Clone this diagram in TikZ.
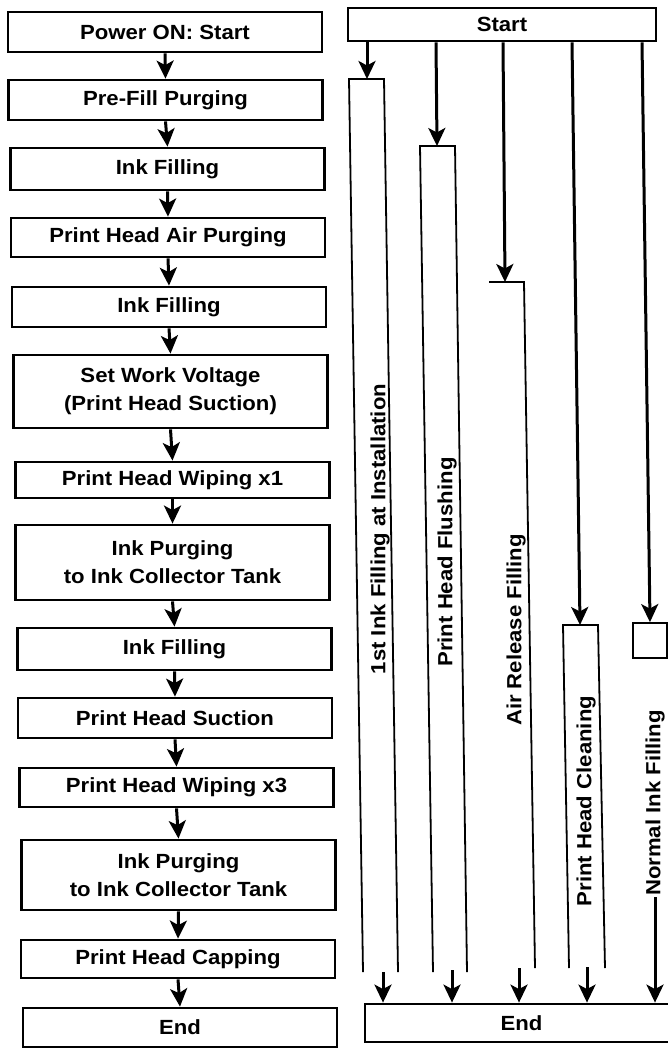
\documentclass[tikz,border=0pt]{standalone}
\usepackage{fontspec}
\setmainfont{Liberation Sans}[FakeStretch=1.08]
\usetikzlibrary{arrows.meta}
\newcommand\lblfont{\bfseries\fontsize{20.5bp}{28bp}\selectfont}
\begin{document}
\begin{tikzpicture}[x=1bp,y=-1bp,
  box/.style={draw, line width=2.8bp, minimum width=314bp, inner sep=0pt, align=center, font=\lblfont},
  arr/.style={line width=3bp, -{Stealth[length=18bp,width=17bp,inset=4.5bp]}},
  lane/.style={line width=1.8bp},
  vlab/.style={rotate=90, inner sep=1bp, font=\lblfont}]
\useasboundingbox (0,0) rectangle (668,1051);
\fill[white] (0,0) rectangle (668,1051);
% ---------- left column ----------
\node[box, minimum height=40bp] (p1) at (165,32) {Power ON: Start};
\node[box, minimum height=40bp] (p2) at (165.5,100) {Pre-Fill Purging};
\node[box, minimum height=42bp] (p3) at (167.5,169) {Ink Filling};
\node[box, minimum height=39bp] (p4) at (168,237.5) {Print Head Air Purging};
\node[box, minimum height=40bp] (p5) at (169,307) {Ink Filling};
\node[box, minimum height=73bp] (p6) at (170.5,391.5) {Set Work Voltage\\(Print Head Suction)};
\node[box, minimum height=36bp] (p7) at (172.5,480) {Print Head Wiping x1};
\node[box, minimum height=75bp] (p8) at (172.5,562.5) {Ink Purging\\to Ink Collector Tank};
\node[box, minimum height=42bp] (p9) at (174.5,649) {Ink Filling};
\node[box, minimum height=40bp] (p10) at (175,718) {Print Head Suction};
\node[box, minimum height=39bp] (p11) at (176.5,787.5) {Print Head Wiping x3};
\node[box, minimum height=70bp] (p12) at (178.5,875) {Ink Purging\\to Ink Collector Tank};
\node[box, minimum height=38bp] (p13) at (178,959) {Print Head Capping};
\node[box, minimum height=39bp] (p14) at (180,1027.5) {End};
\foreach \a/\b in {p1/p2,p2/p3,p3/p4,p4/p5,p5/p6,p6/p7,p7/p8,p8/p9,p9/p10,p10/p11,p11/p12,p12/p13,p13/p14}
  \draw[arr] (\a.south) -- (\b.north);
% ---------- right column ----------
\node[box, minimum width=308bp, minimum height=33bp] (start) at (502,24.5) {Start};
\node[box, minimum width=313bp, minimum height=38bp] (fin) at (521.5,1023) {End};
% lane shapes
\draw[lane] (363,972) -- (349,79) -- (384,79) -- (398,972);
\draw[lane] (433,972) -- (420,146) -- (455,146) -- (467,972);
\draw[lane] (489,282) -- (524,282) -- (535,968);
\draw[lane] (569,968) -- (563,625) -- (598,625) -- (605,968);
\node[draw, line width=1.8bp, minimum width=34bp, minimum height=35bp, inner sep=0pt] (n5) at (650,640.5) {};
% start-to-lane arrows
\coordinate (s1) at (367,41); \coordinate (a1) at (367,79);
\coordinate (s2) at (436,41); \coordinate (a2) at (437,146);
\coordinate (s3) at (503,41); \coordinate (a3) at (505,282);
\coordinate (s4) at (572,41); \coordinate (a4) at (580,625);
\coordinate (s5) at (642,41);
\draw[arr] (start.south -| s1) -- (a1);
\draw[arr] (start.south -| s2) -- (a2);
\draw[arr] (start.south -| s3) -- (a3);
\draw[arr] (start.south -| s4) -- (a4);
\draw[arr] (start.south -| s5) -- (n5.north);
% lane labels
\node[vlab] (l1) at (380,529) {1st Ink Filling at Installation};
\node[vlab] (l2) at (447,562) {Print Head Flushing};
\node[vlab] (l3) at (516,630) {Air Release Filling};
\node[vlab] (l4) at (586,801) {Print Head Cleaning};
\node[vlab] (l5) at (655,803) {Normal Ink Filling};
% lane-to-end arrows
\coordinate (b1) at (383,972);
\coordinate (b2) at (452,970);
\coordinate (b3) at (519,968);
\coordinate (b4) at (587,967);
\draw[arr] (b1) -- (b1 |- fin.north);
\draw[arr] (b2) -- (b2 |- fin.north);
\draw[arr] (b3) -- (b3 |- fin.north);
\draw[arr] (b4) -- (b4 |- fin.north);
\draw[arr] (l5.west) -- (l5.west |- fin.north);
\end{tikzpicture}
\end{document}
